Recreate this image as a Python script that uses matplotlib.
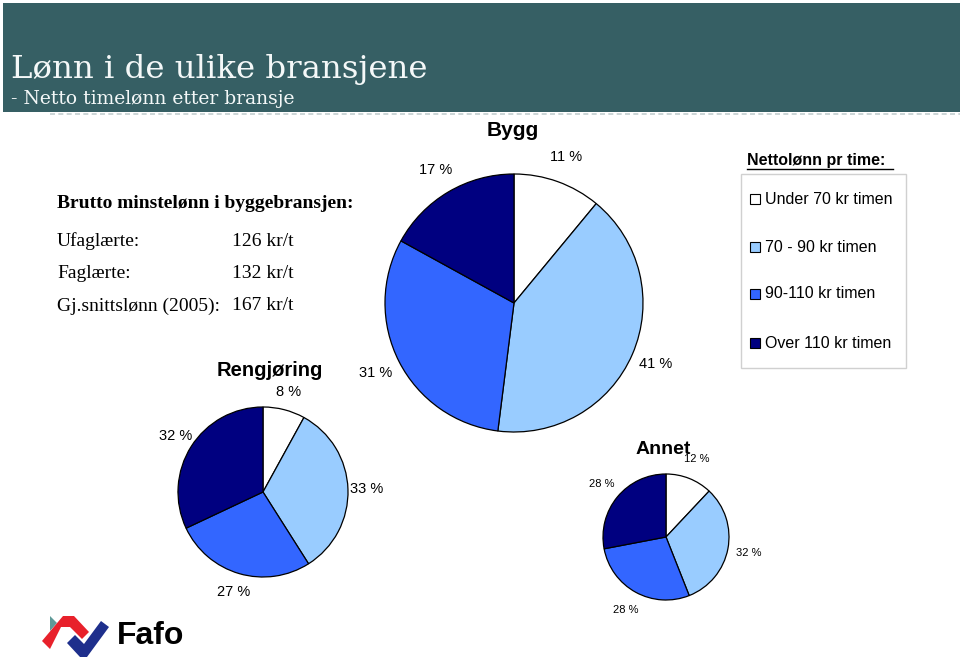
import matplotlib
matplotlib.use("Agg")
import matplotlib.pyplot as plt
from matplotlib.patches import Rectangle, Polygon

W, H = 960, 659

# slice order: Under 70, 70-90, 90-110, Over 110 kr timen
legend_labels = ["Under 70 kr timen", "70 - 90 kr timen", "90-110 kr timen", "Over 110 kr timen"]
slice_colors = ["#FFFFFF", "#99CCFF", "#3366FF", "#000080"]

bygg = [11, 41, 31, 17]
rengjoring = [8, 33, 27, 32]
annet = [12, 32, 28, 28]

wage_rows = ["Ufaglærte:", "Faglærte:", "Gj.snittslønn (2005):"]
wage_values = ["126 kr/t", "132 kr/t", "167 kr/t"]

sans = "Liberation Sans"
serif = "Liberation Serif"

fig = plt.figure(figsize=(W / 100, H / 100), dpi=100)
fig.patch.set_facecolor("white")

# background axes in pixel coordinates for the slide decoration
bg = fig.add_axes([0, 0, 1, 1])
bg.set_xlim(0, W)
bg.set_ylim(H, 0)
bg.axis("off")

bg.add_patch(Rectangle((3, 3), W - 3, 109, facecolor="#365F64", edgecolor="none"))
bg.plot([50, W], [114, 114], color="#C3CECF", lw=1.2, ls=(0, (3, 2)))
bg.text(11, 78, "Lønn i de ulike bransjene", color="#F4F8F8", fontsize=23.3,
        family="DejaVu Serif", va="baseline")
bg.text(11, 104, "- Netto timelønn etter bransje", color="#F4F8F8", fontsize=13.5,
        family="DejaVu Serif", va="baseline")

# text block
bg.text(57, 204, "Brutto minstelønn i byggebransjen:", fontsize=14, family=serif,
        weight="bold", va="center")
for i, (row, val) in enumerate(zip(wage_rows, wage_values)):
    y = 241 + i * 32.5
    bg.text(57, y, row, fontsize=14, family=serif, va="center")
    bg.text(232, y, val, fontsize=14, family=serif, va="center")

# legend
bg.text(747, 160, "Nettolønn pr time:", fontsize=11.5, family=sans, weight="bold",
        va="center")
bg.plot([747, 893], [169, 169], color="black", lw=1)
bg.add_patch(Rectangle((741, 174), 165, 194, facecolor="none", edgecolor="#D0D0D0", lw=1))
for i, (lab, col) in enumerate(zip(legend_labels, slice_colors)):
    y = [199, 247, 294, 343][i]
    bg.add_patch(Rectangle((750, y - 5), 10, 10, facecolor=col, edgecolor="black", lw=0.8))
    bg.text(765, y, lab, fontsize=11.5, family=sans, va="center")

# Fafo logo
bg.add_patch(Polygon([(50, 616), (57, 623), (50, 631)], closed=True, facecolor="#5E9A98",
                     edgecolor="none"))
bg.add_patch(Polygon([(42, 641), (63, 616), (74, 616), (89, 632), (82, 639), (70, 627),
                      (61, 627), (50, 649)], closed=True, facecolor="#E8212B", edgecolor="none"))
bg.add_patch(Polygon([(67, 643), (75, 635), (84, 644), (101, 621), (109, 627), (87, 657),
                      (80, 657)], closed=True, facecolor="#1E2F8C", edgecolor="none"))
bg.text(117, 636, "Fafo", fontsize=23, family=sans, weight="bold", va="center")


def draw_pie(values, cx, cy, r, title, title_xy, title_size, label_size, label_dist):
    pad = 1.4
    s = r * pad
    ax = fig.add_axes([(cx - s) / W, 1 - (cy + s) / H, 2 * s / W, 2 * s / H])
    ax.pie(values, colors=slice_colors, startangle=90, counterclock=False,
           wedgeprops=dict(edgecolor="black", linewidth=0.9),
           autopct=lambda p: f"{p:.0f} %", pctdistance=label_dist,
           textprops=dict(fontsize=label_size, family=sans))
    ax.set_xlim(-pad, pad)
    ax.set_ylim(-pad, pad)
    ax.axis("off")
    bg.text(title_xy[0], title_xy[1], title, fontsize=title_size, family=sans,
            weight="bold", ha="center", va="center")


draw_pie(bygg, 514, 303, 129, "Bygg", (513, 130), 15, 10.5, 1.2)
draw_pie(rengjoring, 263, 492, 85, "Rengjøring", (270, 371), 14.5, 10.5, 1.22)
draw_pie(annet, 666, 537, 63, "Annet", (663, 449), 14, 8, 1.33)

fig.savefig("out.png", dpi=100)
